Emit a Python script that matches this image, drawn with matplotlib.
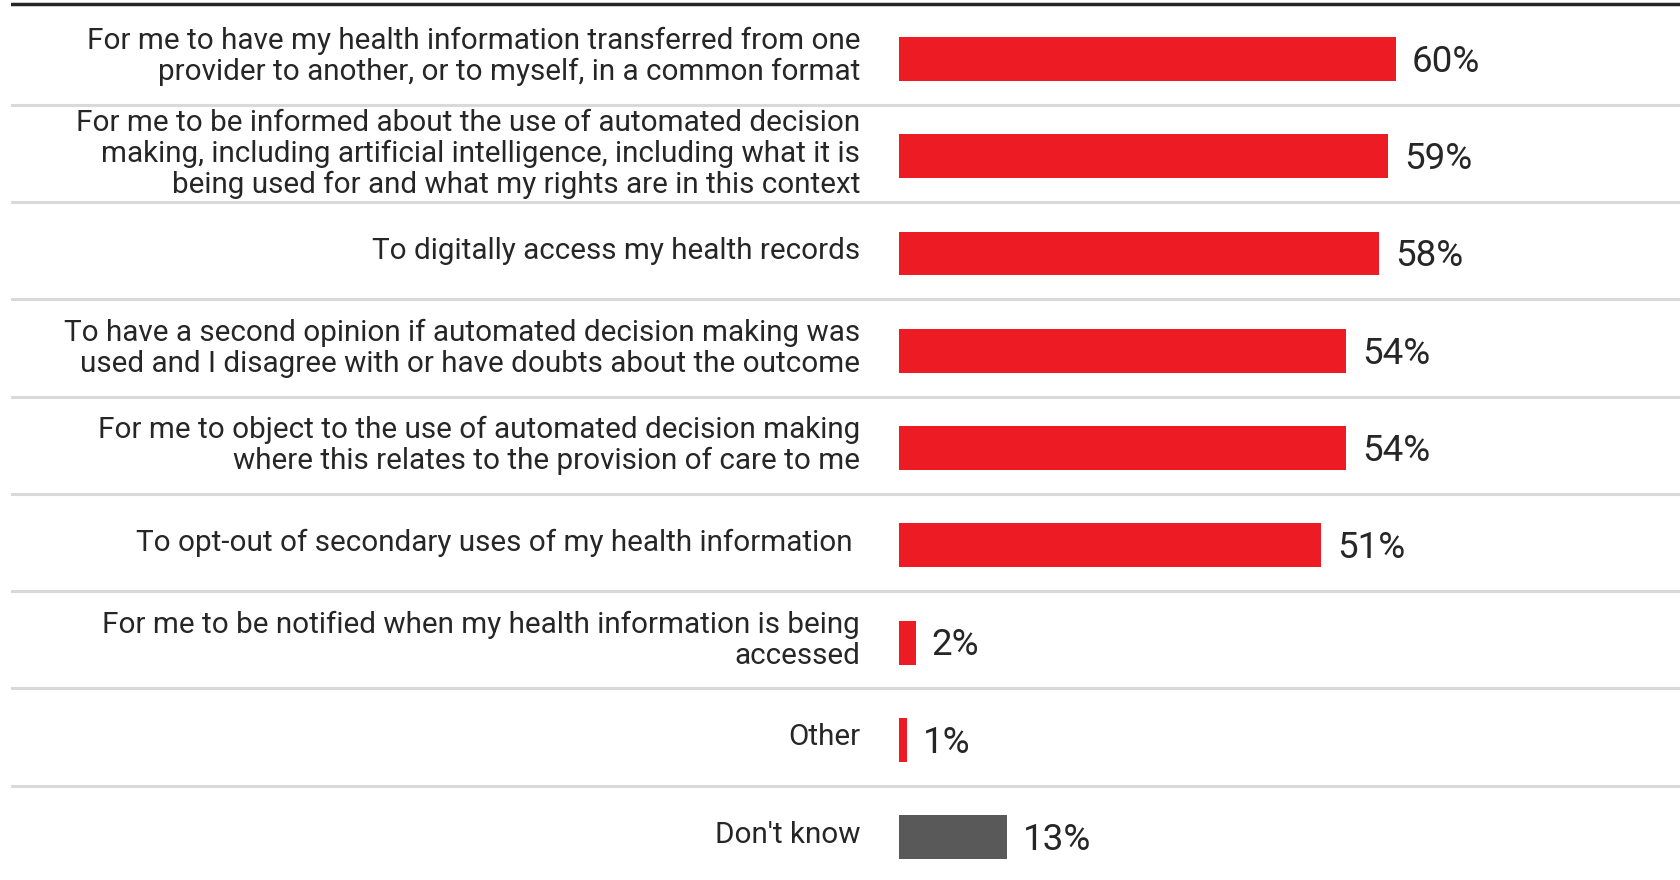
import matplotlib.pyplot as plt

labels = [
    "For me to have my health information transferred from one\nprovider to another, or to myself, in a common format",
    "For me to be informed about the use of automated decision\nmaking, including artificial intelligence, including what it is\nbeing used for and what my rights are in this context",
    "To digitally access my health records",
    "To have a second opinion if automated decision making was\nused and I disagree with or have doubts about the outcome",
    "For me to object to the use of automated decision making\nwhere this relates to the provision of care to me",
    "To opt-out of secondary uses of my health information ",
    "For me to be notified when my health information is being\naccessed",
    "Other",
    "Don't know",
]
values = [60, 59, 58, 54, 54, 51, 2, 1, 13]
colors = ["#ED1C24"] * 8 + ["#595959"]

plt.rcParams['font.family'] = ['Roboto', 'DejaVu Sans']

fig = plt.figure(figsize=(16.81, 8.8), dpi=100)
ax = fig.add_axes([11 / 1681, 0, 1670 / 1681, 1])

ypos = list(range(len(values)))
ax.barh(ypos, values, height=0.45, color=colors)

# value labels
for y, v in zip(ypos, values):
    ax.annotate(f"{v}%", (v, y), xytext=(11.5, -2), textcoords="offset points",
                ha="left", va="center", fontsize=26.5, color="#262626")

# category labels
for y, lab in zip(ypos, labels):
    ax.text(-4.7, y - 0.025, lab, ha="right", va="center", fontsize=21.3,
            color="#262626", linespacing=1.12)

# row separators
for y in ypos[:-1]:
    ax.axhline(y + 0.47, color="#d9d9d9", lw=2.2, zorder=0)
ax.axhline(-0.562, color="#262626", lw=2.5)

ax.set_xlim(-107.2, 94.4)
ax.set_ylim(8.44, -0.606)
ax.axis("off")

fig.savefig("out.png", dpi=100)
